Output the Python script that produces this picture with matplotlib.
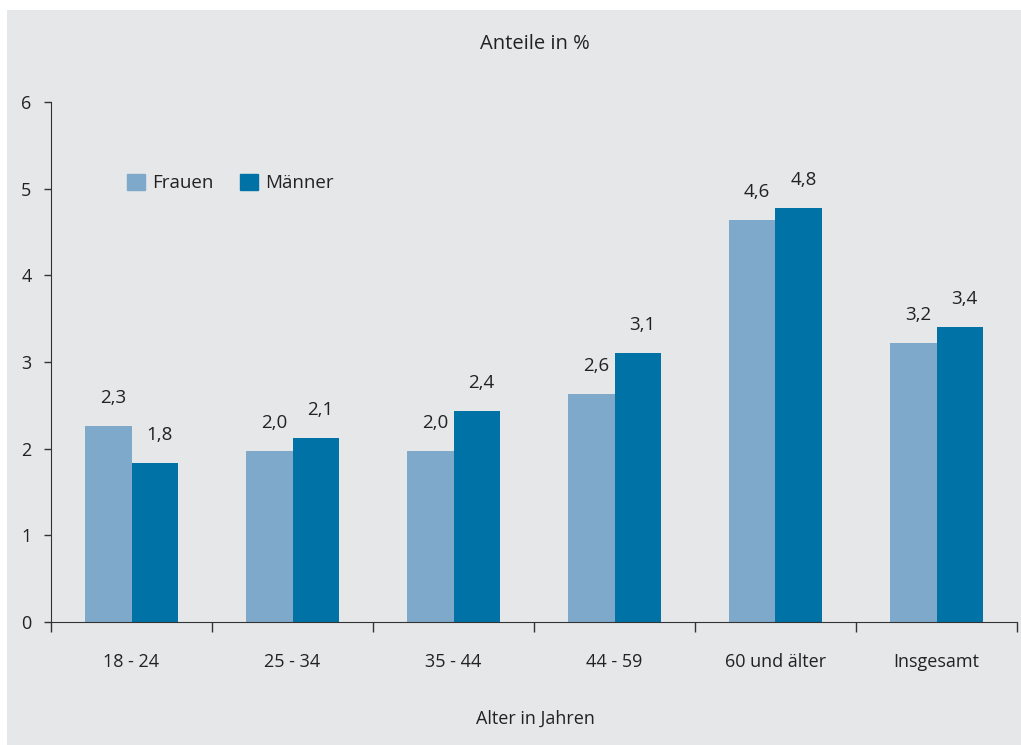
import matplotlib
matplotlib.use("Agg")
from matplotlib import pyplot as plt
from matplotlib.patches import Rectangle, Patch
import numpy as np

plt.rcParams['font.family'] = ['Open Sans', 'DejaVu Sans']

# data
# ====
groups = ['18 - 24', '25 - 34', '35 - 44', '44 - 59', '60 und älter', 'Insgesamt']
frauen = [2.26, 1.97, 1.97, 2.63, 4.64, 3.22]
maenner = [1.83, 2.12, 2.44, 3.10, 4.78, 3.40]

bg = '#e6e7e9'
c_frauen = '#7fa9cb'
c_maenner = '#0072a5'
txt = '#222222'
fs = 13

fig = plt.figure(figsize=(10.21, 7.45), dpi=100, facecolor='white')
fig.patches.append(Rectangle((7 / 1021, 0), 1, 1 - 10 / 745, transform=fig.transFigure,
                             facecolor=bg, edgecolor='none', zorder=-10))

ax = fig.add_axes([51 / 1021, 1 - 622 / 745, 966 / 1021, 520 / 745])
ax.set_facecolor(bg)

x = np.arange(len(groups))
w = 0.29
ax.bar(x - w / 2, frauen, w, color=c_frauen, label='Frauen')
ax.bar(x + w / 2, maenner, w, color=c_maenner, label='Männer')

# value labels, German decimal comma
for offs, vals in [(-w / 2, frauen), (w / 2, maenner)]:
    for xi, v in zip(x, vals):
        ax.annotate(f'{v:.1f}'.replace('.', ','), (xi + offs + 0.03, v), xytext=(0, 28),
                    textcoords='offset pixels', ha='center', va='center',
                    fontsize=13.5, color=txt)

ax.set_xlim(-0.5, len(groups) - 0.5)
ax.set_ylim(0, 6)

ax.set_yticks(range(7))
ax.tick_params(axis='y', direction='out', length=5, width=1, colors='#333333',
               labelsize=fs, labelcolor=txt, pad=9)

# category labels centred, ticks at the group boundaries
ax.set_xticks(x)
ax.set_xticklabels(groups)
ax.tick_params(axis='x', length=0, labelsize=fs, labelcolor=txt, pad=22)
ax.set_xticks(np.arange(len(groups) + 1) - 0.5, minor=True)
ax.tick_params(axis='x', which='minor', direction='out', length=7, width=1, colors='#333333')

for s in ['top', 'right']:
    ax.spines[s].set_visible(False)
ax.spines['left'].set_color('#333333')
ax.spines['bottom'].set_color('#333333')

fig.text(535 / 1021, 1 - 44 / 745, 'Anteile in %', ha='center', va='center',
         fontsize=14.5, color=txt)
fig.text(535 / 1021, 1 - 719 / 745, 'Alter in Jahren', ha='center', va='center',
         fontsize=fs, color=txt)

handles = [Patch(color=c_frauen, label='Frauen'), Patch(color=c_maenner, label='Männer')]
ax.legend(handles=handles, loc='center left', bbox_to_anchor=(63 / 966, 1 - 81 / 520),
          ncol=2, frameon=False, fontsize=13.5, handlelength=0.95, handleheight=0.95,
          handletextpad=0.4, columnspacing=1.4, labelcolor=txt, borderpad=0.2)

fig.savefig('out.png', dpi=100, facecolor=fig.get_facecolor())
